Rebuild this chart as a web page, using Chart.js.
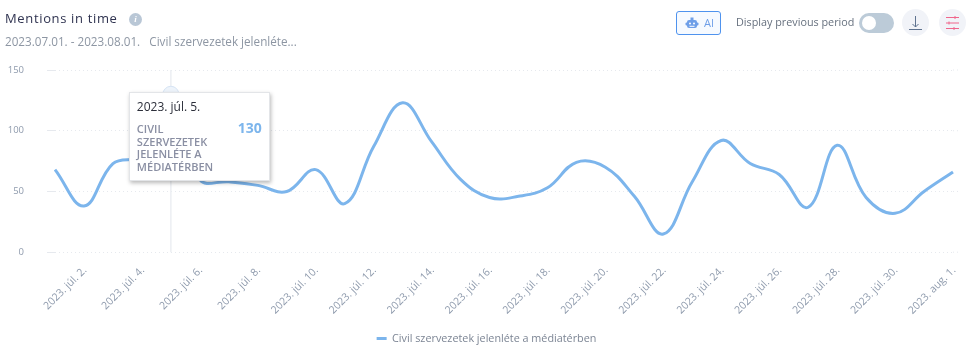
<!DOCTYPE html>
<html>
<head>
<meta charset="utf-8">
<script src="https://cdn.jsdelivr.net/npm/chart.js@4"></script>
<style>
  html, body { margin: 0; background: #fff; font-family: 'Open Sans', sans-serif; overflow: hidden; }
  #wrap { position: relative; width: 973px; height: 352px; overflow: hidden; }
  canvas { position: absolute; left: 0; top: 0; }
  .abs { position: absolute; white-space: nowrap; }
  #title { left: 5px; top: 8px; font-size: 13px; letter-spacing: .65px; color: #2f3350; line-height: 20px; }
  #info { left: 129px; top: 13px; width: 13px; height: 13px; border-radius: 50%; background: #b9c7d6; color: #fff; font: italic bold 9px/13px 'Liberation Serif', serif; text-align: center; }
  #sub { left: 5px; top: 33px; font-size: 11.7px; color: #8d96a3; line-height: 17px; }
  #ai { left: 676px; top: 11px; width: 43px; height: 22px; border: 1px solid #4f93ee; border-radius: 3px; background: #f6faff; color: #6f9fe8; font-size: 11px; line-height: 22px; }
  #ai svg { position: absolute; left: 8px; top: 4px; }
  #ai span { position: absolute; left: 27px; }
  #prev { left: 736px; top: 14px; font-size: 10.8px; color: #66707e; line-height: 16px; }
  #toggle { left: 859px; top: 13px; width: 35px; height: 20px; border-radius: 10px; background: #bccbd8; }
  #toggle i { position: absolute; left: 3px; top: 3px; width: 14px; height: 14px; border-radius: 50%; background: #fff; }
  .btn { top: 9px; width: 27px; height: 27px; border-radius: 50%; background: #f1f3f8; }
  .btn svg { position: absolute; left: 0; top: 0; }
  #tip { position: absolute; width: 141px; height: 89px; box-sizing: border-box; background: #fff; border: 1px solid #e3e5e8; box-shadow: 1px 2px 4px rgba(0,0,0,.28); display: none; }
  #tip .date { position: absolute; left: 7px; top: 6px; font-size: 12px; color: #2c2f3a; line-height: 16px; }
  #tip .name { position: absolute; left: 7px; top: 30px; width: 90px; font-size: 11px; font-weight: 600; color: #8a8fa3; line-height: 12.6px; text-transform: uppercase; }
  #tip .val { position: absolute; right: 7px; top: 26px; font-size: 14px; font-weight: 700; color: #7cb5ec; line-height: 18px; }
</style>
</head>
<body>
<div id="wrap">
  <canvas id="chart" width="973" height="354"></canvas>
  <div class="abs" id="title">Mentions in time</div>
  <div class="abs" id="info">i</div>
  <div class="abs" id="sub">2023.07.01. - 2023.08.01. &nbsp; Civil szervezetek jelenléte...</div>
  <div class="abs" id="ai">
    <svg width="14" height="14" viewBox="0 0 14 14"><rect x="2" y="4" width="10" height="8" rx="2" fill="#6f9fe8"/><rect x="0.5" y="6.5" width="13" height="3" rx="1" fill="#6f9fe8"/><rect x="5.5" y="1.5" width="3" height="3" fill="#6f9fe8"/><circle cx="5" cy="7.5" r="1" fill="#fff"/><circle cx="9" cy="7.5" r="1" fill="#fff"/><rect x="4.5" y="9.8" width="5" height="1" fill="#fff"/></svg>
    <span>AI</span>
  </div>
  <div class="abs" id="prev">Display previous period</div>
  <div class="abs" id="toggle"><i></i></div>
  <div class="abs btn" style="left:902px">
    <svg width="27" height="27" viewBox="0 0 27 27" fill="none" stroke="#5f7390" stroke-width="1"><path d="M13.5 7v11M10.5 15l3 3 3-3"/><path d="M7 20.5h13"/></svg>
  </div>
  <div class="abs btn" style="left:939px">
    <svg width="27" height="27" viewBox="0 0 27 27" fill="none" stroke="#f0668c" stroke-width="1"><path d="M7 8.5h13M7 14h13M7 19.500h13"/><path d="M16 7v3M10 12.500v3M15 18v3"/></svg>
  </div>
  <div id="tip">
    <div class="date"></div>
    <div class="name"></div>
    <div class="val"></div>
  </div>
</div>
<script>
'use strict';

const seriesName = 'Civil szervezetek jelenléte a médiatérben';
const dayLabels = [
  '2023. júl. 1.', '2023. júl. 2.', '2023. júl. 3.', '2023. júl. 4.', '2023. júl. 5.', '2023. júl. 6.',
  '2023. júl. 7.', '2023. júl. 8.', '2023. júl. 9.', '2023. júl. 10.', '2023. júl. 11.', '2023. júl. 12.',
  '2023. júl. 13.', '2023. júl. 14.', '2023. júl. 15.', '2023. júl. 16.', '2023. júl. 17.', '2023. júl. 18.',
  '2023. júl. 19.', '2023. júl. 20.', '2023. júl. 21.', '2023. júl. 22.', '2023. júl. 23.', '2023. júl. 24.',
  '2023. júl. 25.', '2023. júl. 26.', '2023. júl. 27.', '2023. júl. 28.', '2023. júl. 29.', '2023. júl. 30.',
  '2023. júl. 31.', '2023. aug. 1.'
];
const mentions = [
  68, 38, 73, 80, 130, 60, 58, 55, 50, 68, 40, 87, 123, 91, 60, 45,
  46, 53, 74, 70, 46, 15, 58, 92, 73, 64, 37, 88, 45, 32, 50, 66
];
const hoverIndex = 4;

const LINE = '#7cb5ec';

// ── HTML tooltip ────────────────────────────────────────────────
function renderTip({ tooltip }) {
  const el = document.getElementById('tip');
  if (!tooltip.dataPoints || !tooltip.dataPoints.length) { el.style.display = 'none'; return; }
  const p = tooltip.dataPoints[0];
  el.querySelector('.date').textContent = p.label;
  el.querySelector('.name').textContent = p.dataset.label;
  el.querySelector('.val').textContent = p.raw;
  el.style.left = (tooltip.caretX - 42) + 'px';
  el.style.top = (tooltip.caretY - 2) + 'px';
  el.style.display = 'block';
}

// ── Hover crosshair + grid stub right of the plot ───────────────
const extras = {
  id: 'extras',
  beforeDatasetsDraw(chart) {
    const { ctx, chartArea: a, scales: { y } } = chart;
    ctx.save();
    ctx.strokeStyle = '#e6e9ee';
    ctx.setLineDash([1, 3]);
    y.ticks.forEach(t => {
      const py = y.getPixelForValue(t.value);
      ctx.beginPath(); ctx.moveTo(a.right, py); ctx.lineTo(a.right + 8, py); ctx.stroke();
    });
    ctx.setLineDash([]);
    const act = chart.getActiveElements()[0];
    if (act) {
      ctx.strokeStyle = '#eceff3';
      ctx.lineWidth = 1.5;
      ctx.beginPath(); ctx.moveTo(act.element.x, a.top); ctx.lineTo(act.element.x, a.bottom); ctx.stroke();
    }
    ctx.restore();
  },
};

const chart = new Chart(document.getElementById('chart'), {
  type: 'line',
  plugins: [extras],
  data: {
    labels: dayLabels,
    datasets: [{
      label: seriesName,
      data: mentions,
      borderColor: LINE,
      backgroundColor: LINE,
      borderWidth: 3,
      tension: 0.4,
      pointRadius: 0,
      pointHoverRadius: 8,
      pointHoverBackgroundColor: '#eef4fb',
      pointHoverBorderColor: '#d5e3f3',
      pointHoverBorderWidth: 1,
    }],
  },
  options: {
    responsive: false,
    animation: false,
    events: [],
    layout: { padding: { top: 70, left: 0, right: 0, bottom: 0 } },
    scales: {
      x: {
        afterFit(scale) { scale.height = 79; scale.paddingRight = 20; },
        grid: { display: false },
        border: { display: false },
        ticks: {
          autoSkip: false,
          minRotation: 45,
          maxRotation: 45,
          padding: 4,
          labelOffset: 1,
          color: '#8f9bad',
          font: { family: "'Open Sans'", size: 10.5 },
          callback(v, i) { return i % 2 ? this.getLabelForValue(v) : ''; },
        },
      },
      y: {
        min: 0,
        max: 150,
        afterFit(scale) { scale.width = 55; },
        grid: { color: '#e6e9ee', tickLength: 8 },
        border: { display: false, dash: [1, 3] },
        ticks: {
          stepSize: 50,
          padding: 23,
          color: '#8f9bad',
          font: { family: "'Open Sans'", size: 9.5 },
        },
      },
    },
    plugins: {
      legend: {
        position: 'bottom',
        labels: {
          boxWidth: 10,
          boxHeight: 3,
          padding: 2,
          color: '#7c8594',
          font: { family: "'Open Sans'", size: 10.8 },
          generateLabels(c) {
            return Chart.defaults.plugins.legend.labels.generateLabels(c).map(l => ({ ...l, lineWidth: 0 }));
          },
        },
      },
      tooltip: { enabled: false, external: renderTip },
    },
  },
});

const active = [{ datasetIndex: 0, index: hoverIndex }];
chart.setActiveElements(active);
chart.tooltip.setActiveElements(active, { x: 0, y: 0 });
chart.render();
</script>
</body>
</html>
